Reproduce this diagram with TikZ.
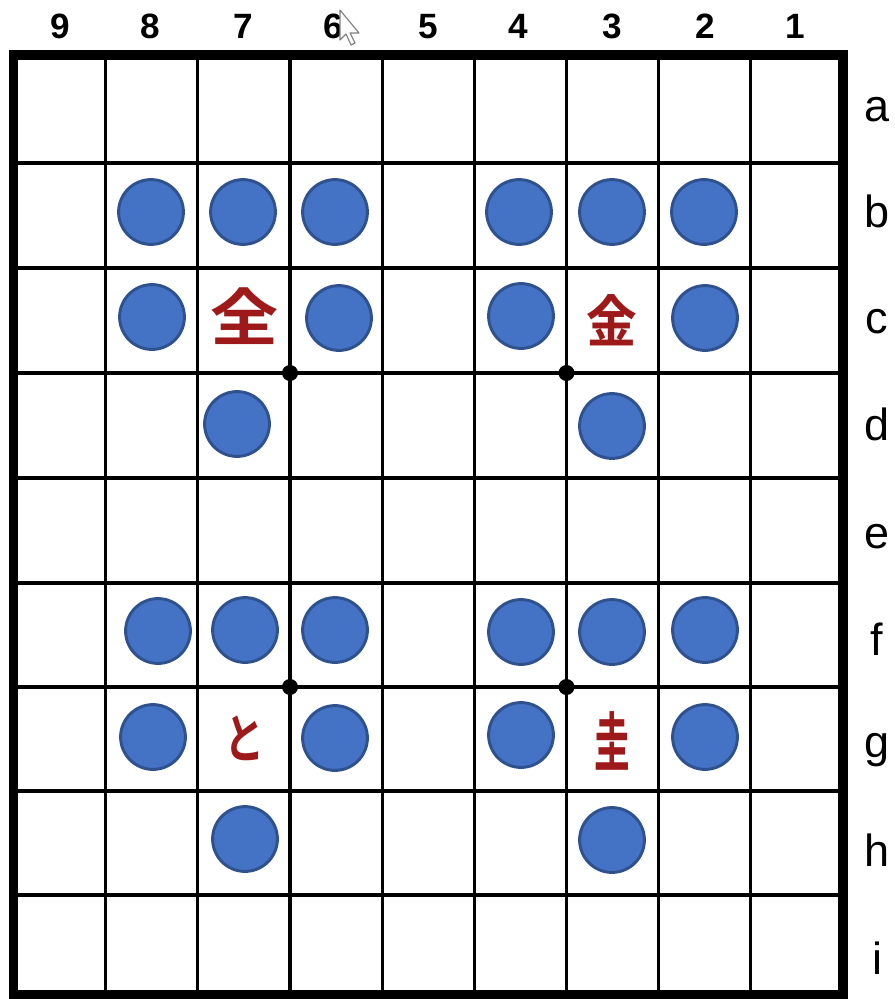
\documentclass[tikz,border=0pt]{standalone}
\usepackage{fontspec}
\setmainfont{Liberation Sans}
\newfontfamily\jpfont{Noto Sans CJK JP}[BoldFont={Noto Sans CJK JP Bold}]
\usetikzlibrary{positioning}
\definecolor{stoneblue}{RGB}{68,114,196}
\definecolor{stoneedge}{RGB}{47,82,143}
\definecolor{piecered}{RGB}{158,26,26}

\begin{document}
\begin{tikzpicture}[x=0.025cm, y=-0.025cm,
    stone/.style={circle, fill=stoneblue, draw=stoneedge, line width=2.1pt, minimum size=1.62cm, inner sep=0pt},
    dot/.style={circle, fill=black, minimum size=0.4cm, inner sep=0pt},
    piece/.style={text=piecered, inner sep=0pt, font=\jpfont\bfseries\fontsize{44}{44}\selectfont},
    collabel/.style={font=\bfseries\fontsize{25}{25}\selectfont, anchor=base},
    rowlabel/.style={font=\fontsize{32}{32}\selectfont, anchor=base}]
    \useasboundingbox (0,0) rectangle (894,999);

    % grid
    \foreach \gx in {105.7,197.8,290,382.2,474.3,566.5,658.7,750.8}
        \draw[line width=2.2pt] (\gx,55) -- (\gx,994);
    \foreach \gy in {163,268,373,478,583,687,791,895}
        \draw[line width=2.2pt] (13.5,\gy) -- (843,\gy);
    \draw[line width=6.6pt] (13.5,55) rectangle (843,995);

    % file and rank labels
    \foreach \n/\lx in {9/60,8/150,7/243,6/333,5/428,4/518,3/612,2/705,1/795}
        \node[collabel] (file\n) at (\lx,39) {\n};
    \foreach \r/\ly in {a/121,b/227,c/333,d/440,e/548,f/655,g/757,h/866,i/974}
        \node[rowlabel] (rank\r) at (877,\ly) {\r};

    % stones
    \foreach \s/\sx/\sy in {b8/151/212,b7/243/212,b6/335/212,b4/519/212,b3/612/212,b2/704/212,
                            c8/152/317,c6/339/318,c4/521/316,c2/705/318,
                            d7/237/424,d3/612/426,
                            f8/158/631,f7/245/630,f6/335/630,f4/521/632,f3/612/632,f2/705/630,
                            g8/153/737,g6/335/738,g4/521/735,g2/705/737,
                            h7/245/839,h3/612/840}
        \node[stone] (\s) at (\sx,\sy) {};

    % pieces
    \node[piece, xscale=1.1] (c7) at (245,316) {全};
    \node[piece, xscale=0.9, font=\jpfont\bfseries\fontsize{40}{40}\selectfont] (c3) at (612,320) {金};
    \node[piece, xscale=0.75, font=\jpfont\bfseries\fontsize{38}{38}\selectfont] (g7) at (245,738) {と};
    \node[piece, xscale=0.55, font=\jpfont\bfseries\fontsize{46}{46}\selectfont] (g3) at (612,741) {圭};

    % corner dots
    \node[dot] (dotc6) at (290,373) {};
    \node[dot] (dotc3) at (566.5,373) {};
    \node[dot] (dotf6) at (290,687) {};
    \node[dot] (dotf3) at (566.5,687) {};

    % pointer
    \draw[fill=white, draw=gray, line width=0.8pt, line join=round]
        (340,10) -- (340,40) -- (346,34) -- (351,45) -- (355,43) -- (350,33) -- (359,33) -- cycle;
\end{tikzpicture}
\end{document}
